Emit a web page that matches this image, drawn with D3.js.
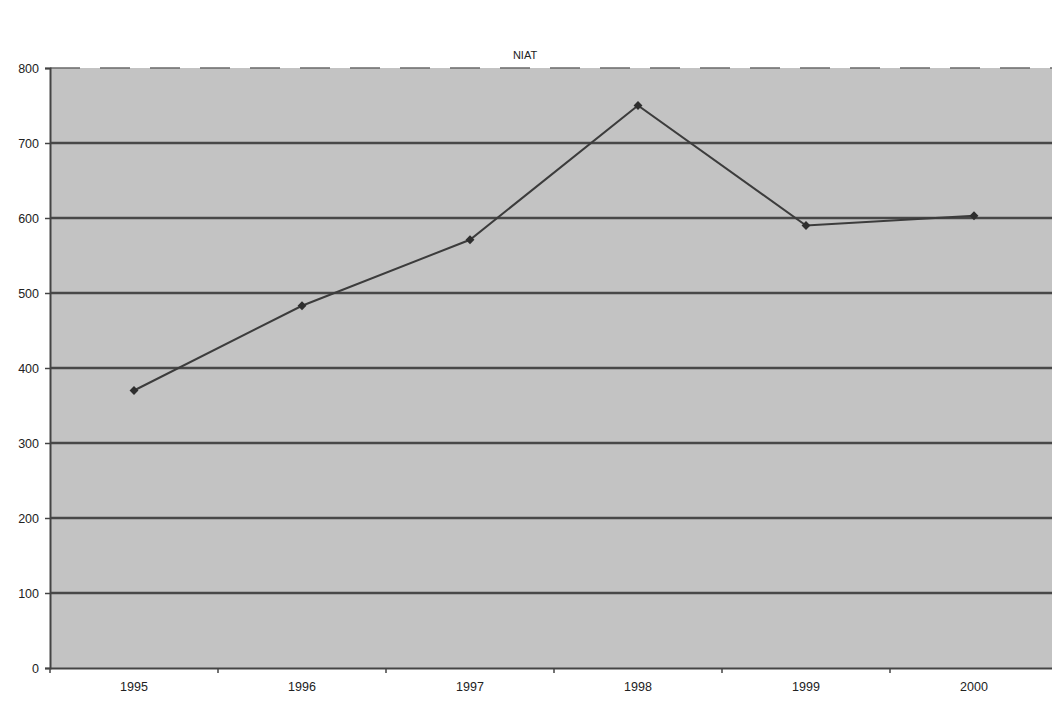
<!DOCTYPE html>
<html>
<head>
<meta charset="utf-8">
<script src="https://cdn.jsdelivr.net/npm/d3@7"></script>
<style>
  body { margin: 0; background: #fff; }
  svg text { font-family: "Liberation Sans", Arial, sans-serif; fill: #222; }
</style>
</head>
<body>
<div id="chart"></div>
<script>
var years = ["1995", "1996", "1997", "1998", "1999", "2000"];
var niat = [370, 483, 571, 750, 590, 603];
var yTicks = [0, 100, 200, 300, 400, 500, 600, 700, 800];

var width = 1052, height = 703;
var margin = { top: 68, right: -6, bottom: 35, left: 50 };
var innerW = width - margin.left - margin.right;
var innerH = height - margin.top - margin.bottom;

var svg = d3.select("#chart")
  .append("svg")
  .attr("width", width)
  .attr("height", height);

// title
svg.append("text")
  .attr("x", 525)
  .attr("y", 59)
  .attr("text-anchor", "middle")
  .style("font-size", "11px")
  .text("NIAT");

var g = svg.append("g")
  .attr("transform", "translate(" + margin.left + "," + margin.top + ")");

var x = d3.scaleBand().domain(years).range([0, innerW]);
var y = d3.scaleLinear().domain([0, 800]).range([innerH, 0]);

// plot background
g.append("rect")
  .attr("width", innerW)
  .attr("height", innerH)
  .attr("fill", "#c3c3c3");

// gridlines
g.selectAll(".grid")
  .data(yTicks.filter(function (d) { return d > 0; }))
  .enter()
  .append("line")
  .attr("class", "grid")
  .attr("x1", 0)
  .attr("x2", innerW)
  .attr("y1", function (d) { return y(d); })
  .attr("y2", function (d) { return y(d); })
  .attr("stroke", function (d) { return d === 800 ? "#6a6a6a" : "#484848"; })
  .attr("stroke-width", function (d) { return d === 800 ? 1.5 : 2.5; })
  .attr("stroke-dasharray", function (d) { return d === 800 ? "30,20" : null; });

// y axis
var yAxis = g.append("g")
  .call(d3.axisLeft(y).tickValues(yTicks).tickSize(5).tickPadding(6));
yAxis.select(".domain").attr("stroke", "#444").attr("stroke-width", 2);
yAxis.selectAll(".tick line").attr("stroke", "#444").attr("stroke-width", 1.5);
yAxis.selectAll("text").style("font-size", "12.5px").attr("fill", "#1a1a1a");

// x axis with ticks on band boundaries
var xAxis = g.append("g")
  .attr("transform", "translate(0," + innerH + ")")
  .call(d3.axisBottom(x).tickSize(0).tickPadding(14));
xAxis.select(".domain").attr("stroke", "#444").attr("stroke-width", 2);
xAxis.selectAll("text").style("font-size", "12.5px").attr("fill", "#1a1a1a");
xAxis.selectAll(".bound")
  .data(years)
  .enter()
  .append("line")
  .attr("class", "bound")
  .attr("x1", function (d) { return x(d); })
  .attr("x2", function (d) { return x(d); })
  .attr("y1", 0)
  .attr("y2", 5)
  .attr("stroke", "#444")
  .attr("stroke-width", 1.5);

// line
var line = d3.line()
  .x(function (d, i) { return x(years[i]) + x.bandwidth() / 2; })
  .y(function (d) { return y(d); });

g.append("path")
  .datum(niat)
  .attr("d", line)
  .attr("fill", "none")
  .attr("stroke", "#3c3c3c")
  .attr("stroke-width", 2);

// diamond markers
g.selectAll(".pt")
  .data(niat)
  .enter()
  .append("path")
  .attr("class", "pt")
  .attr("d", d3.symbol().type(d3.symbolDiamond2 || d3.symbolDiamond).size(50))
  .attr("transform", function (d, i) {
    return "translate(" + (x(years[i]) + x.bandwidth() / 2) + "," + y(d) + ")";
  })
  .attr("fill", "#2e2e2e");
</script>
</body>
</html>
